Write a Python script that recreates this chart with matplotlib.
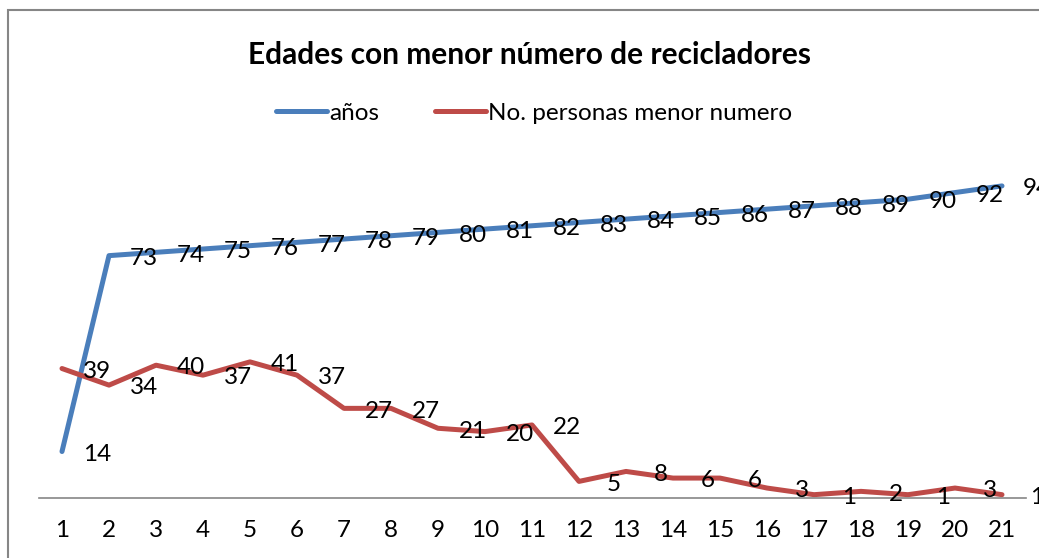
import matplotlib.pyplot as plt
from matplotlib.patches import Rectangle

# categories and series
categorias = list(range(1, 22))
anios = [14, 73, 74, 75, 76, 77, 78, 79, 80, 81, 82, 83, 84, 85, 86, 87, 88, 89, 90, 92, 94]
personas = [39, 34, 40, 37, 41, 37, 27, 27, 21, 20, 22, 5, 8, 6, 6, 3, 1, 2, 1, 3, 1]

W, H = 1039, 558
fig = plt.figure(figsize=(W / 100, H / 100), dpi=100)
plt.rcParams['font.family'] = ['Lato', 'DejaVu Sans']

# plot area in pixel terms
left, right, bottom, top = 38.5, 1025.5, 498, 166
ax = fig.add_axes([left / W, 1 - bottom / H, (right - left) / W, (bottom - top) / H])

azul = '#4a7ebb'
rojo = '#be4b48'
ax.plot(categorias, anios, color=azul, lw=3.6, label='años', solid_capstyle='round')
ax.plot(categorias, personas, color=rojo, lw=3.6, label='No. personas menor numero', solid_capstyle='round')

# data labels sit to the right of each point
for x, y in zip(categorias, anios):
    ax.annotate(str(y), (x, y), xytext=(25, -2), textcoords='offset points',
                ha='center', va='center', fontsize=17.5, annotation_clip=False)
for x, y in zip(categorias, personas):
    ax.annotate(str(y), (x, y), xytext=(25, -2), textcoords='offset points',
                ha='center', va='center', fontsize=17.5, annotation_clip=False)

ax.set_xlim(0.5, 21.5)
ax.set_ylim(0, 100)
ax.set_xticks(categorias)
ax.tick_params(axis='x', length=0, pad=16, labelsize=17.5)
ax.set_yticks([])
for s in ['top', 'left', 'right']:
    ax.spines[s].set_visible(False)
ax.spines['bottom'].set_color('#868686')
ax.spines['bottom'].set_linewidth(1.2)

fig.text(530 / W, 1 - 55 / H, 'Edades con menor número de recicladores',
         ha='center', va='center', fontsize=21.5, fontweight='bold')

fig.legend(loc='center', bbox_to_anchor=(534 / W, 1 - 113 / H), ncol=2, frameon=False,
           fontsize=17.5, handlelength=2.1, handletextpad=0.08, columnspacing=2.3)

# outer chart border
fig.patches.append(Rectangle((8 / W, -0.05), 1.1, 1 - 10 / H + 0.05, transform=fig.transFigure,
                             fill=False, edgecolor='#868686', lw=1.5))

fig.savefig('out.png', dpi=100)
